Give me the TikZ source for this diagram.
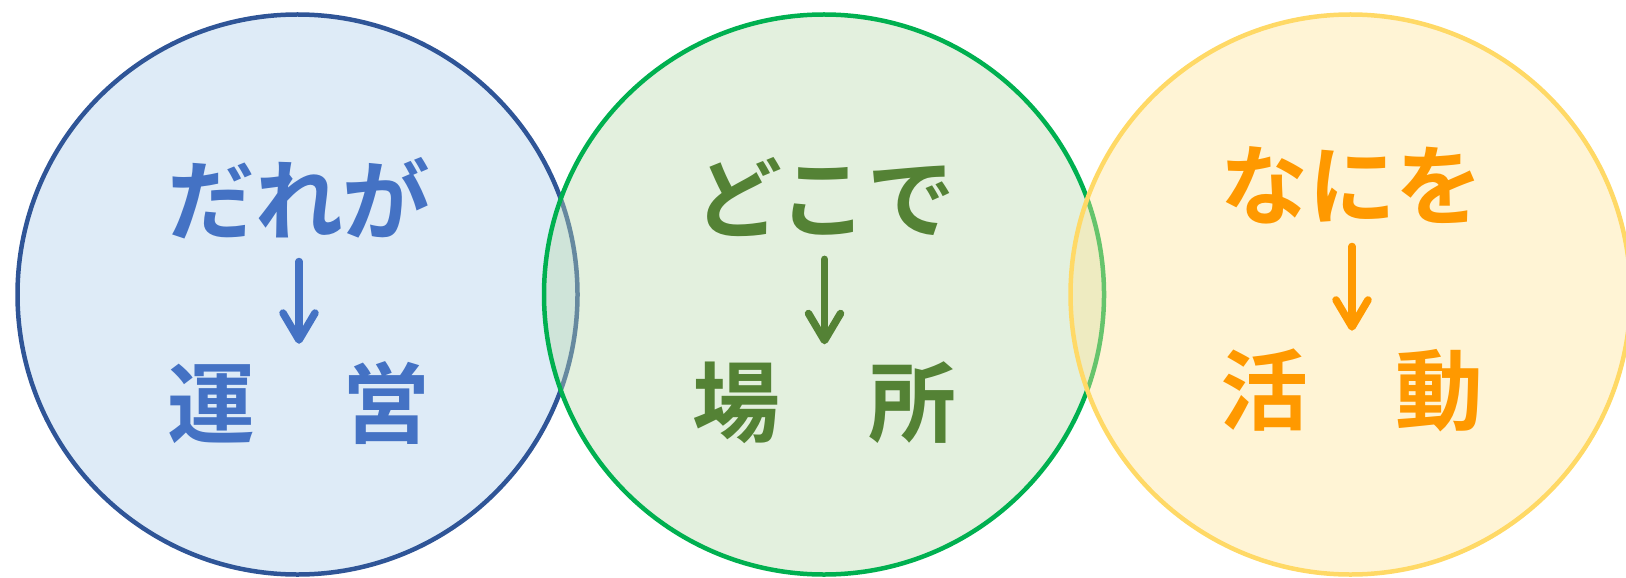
\documentclass[tikz,border=0pt]{standalone}
\usepackage{fontspec}
\newfontfamily\jpfont{Noto Sans CJK JP}[BoldFont={Noto Sans CJK JP Bold}]
\usetikzlibrary{arrows.meta}
\definecolor{bluefill}{RGB}{172,205,235}
\definecolor{blueline}{RGB}{47,85,151}
\definecolor{bluetext}{RGB}{68,114,196}
\definecolor{greenfill}{RGB}{185,217,172}
\definecolor{greenline}{RGB}{0,176,80}
\definecolor{greentext}{RGB}{84,130,53}
\definecolor{yellowfill}{RGB}{255,228,150}
\definecolor{yellowline}{RGB}{255,217,102}
\definecolor{orangetext}{RGB}{255,153,0}

\begin{document}
\begin{tikzpicture}[
    ring/.style={line width=0.045cm, fill opacity=0.4},
    word/.style={font=\jpfont\bfseries\fontsize{25}{25}\selectfont, inner sep=0pt},
    down/.style={line width=0.075cm, line cap=round, -{Straight Barb[length=2.7mm, width=3.2mm, line join=round, line cap=round]}, shorten <=0.22cm, shorten >=0.17cm}
  ]
    \useasboundingbox (0,0) rectangle (16.26,5.77);
    \draw [ring, draw=blueline, fill=bluefill] (2.975,2.825) circle (2.8);
    \draw [ring, draw=greenline, fill=greenfill] (8.24,2.825) circle (2.8);
    \draw [ring, draw=yellowline, fill=yellowfill] (13.505,2.825) circle (2.8);
    \node [word, text=bluetext] (dareka) at (2.99,3.79) {だれが};
    \node [word, text=bluetext] (unei) at (2.99,1.74) {運　営};
    \node [word, text=greentext] (dokode) at (8.245,3.80) {どこで};
    \node [word, text=greentext] (basho) at (8.245,1.74) {場　所};
    \node [word, text=orangetext] (naniwo) at (13.52,3.92) {なにを};
    \node [word, text=orangetext] (katsudo) at (13.52,1.87) {活　動};
    \draw [down, bluetext] (dareka.south) -- (unei.north);
    \draw [down, greentext] (dokode.south) -- (basho.north);
    \draw [down, orangetext] (naniwo.south) -- (katsudo.north);
  \end{tikzpicture}
\end{document}
